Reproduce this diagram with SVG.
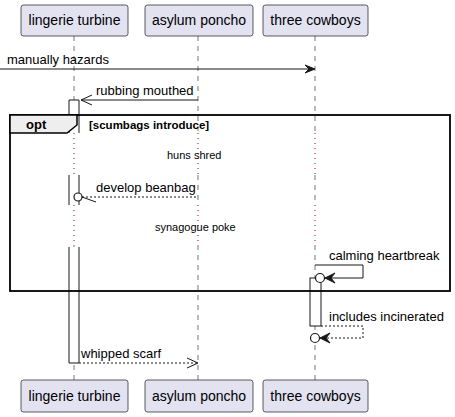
<svg xmlns="http://www.w3.org/2000/svg" width="455" height="417" viewBox="0 0 455 417">
<style>
.box{fill:#E2E2F0;stroke:#181818;stroke-width:0.7}
.name{font-family:"Liberation Sans",Arial,sans-serif;font-size:14px;fill:#000}
.life{stroke:#181818;stroke-width:0.6;stroke-dasharray:5,5}
.delay{stroke:#A80036;stroke-width:1;stroke-dasharray:1,4}
.msg{font-family:"Liberation Sans",Arial,sans-serif;font-size:13px;fill:#000}
.small{font-family:"Liberation Sans",Arial,sans-serif;font-size:11px;fill:#000}
.bold{font-family:"Liberation Sans",Arial,sans-serif;font-size:11.5px;font-weight:bold;fill:#000}
.line{stroke:#181818;stroke-width:1;fill:none}
.dash{stroke:#181818;stroke-width:1;fill:none;stroke-dasharray:2,2}
.act{fill:#fff;stroke:#181818;stroke-width:1}
.wf{fill:#fff;stroke:none}
.head{fill:#181818;stroke:#181818;stroke-width:1}
</style>
<g id="lifelines">
<line class="life" x1="74" y1="36" x2="74" y2="133"/>
<line class="delay" x1="74" y1="133" x2="74" y2="175"/>
<line class="life" x1="74" y1="175" x2="74" y2="205"/>
<line class="delay" x1="74" y1="205" x2="74" y2="245"/>
<line class="life" x1="74" y1="245" x2="74" y2="380"/>
<line class="life" x1="198" y1="36" x2="198" y2="133"/>
<line class="delay" x1="198" y1="133" x2="198" y2="175"/>
<line class="life" x1="198" y1="175" x2="198" y2="205"/>
<line class="delay" x1="198" y1="205" x2="198" y2="245"/>
<line class="life" x1="198" y1="245" x2="198" y2="380"/>
<line class="life" x1="315" y1="36" x2="315" y2="133"/>
<line class="delay" x1="315" y1="133" x2="315" y2="175"/>
<line class="life" x1="315" y1="175" x2="315" y2="205"/>
<line class="delay" x1="315" y1="205" x2="315" y2="245"/>
<line class="life" x1="315" y1="245" x2="315" y2="380"/>
</g>
<g id="activations">
<rect class="wf" x="69" y="100" width="10" height="33"/>
<path class="line" d="M69,133 V100 H79 V133"/>
<rect class="wf" x="69" y="175" width="10" height="30"/>
<line class="line" x1="69" y1="175" x2="69" y2="205"/>
<line class="line" x1="79" y1="175" x2="79" y2="205"/>
<rect class="wf" x="69" y="247" width="10" height="116"/>
<path class="line" d="M69,247 V363 H79 V247"/>
<rect class="act" x="310" y="278" width="11" height="48"/>
</g>
<g id="opt">
<rect x="10" y="115" width="440" height="176" fill="none" stroke="#000" stroke-width="1.8"/>
<path d="M10,115 H77 V125 L67,133 H10 Z" fill="#EEEEEE" stroke="#000" stroke-width="1.5"/>
<text class="bold" x="26" y="129" style="font-size:13px">opt</text>
<text class="bold" x="89" y="129">[scumbags introduce]</text>
</g>
<g id="connectors">
<line class="line" x1="0" y1="69" x2="313" y2="69"/>
<polygon class="head" points="315,69 305,65 309,69 305,73"/>
<text class="msg" x="7" y="64">manually hazards</text>
<line class="line" x1="81" y1="100" x2="198" y2="100"/>
<path class="line" d="M92,95 L81,100 L92,105"/>
<text class="msg" x="96" y="95">rubbing mouthed</text>
<text class="small" x="167" y="159">huns shred</text>
<line class="dash" x1="82" y1="197" x2="198" y2="197"/>
<circle cx="78" cy="197" r="4" fill="#fff" stroke="#181818" stroke-width="1.2"/>
<line class="line" x1="82" y1="197" x2="96" y2="202"/>
<text class="msg" x="96" y="192">develop beanbag</text>
<text class="small" x="155" y="231">synagogue poke</text>
<path class="line" d="M315,265 H363 V278 H325"/>
<polygon class="head" points="325,278 335,273 331,278 335,283"/>
<circle cx="320" cy="278" r="4.5" fill="#fff" stroke="#181818" stroke-width="1.2"/>
<text class="msg" x="329" y="260">calming heartbreak</text>
<path class="dash" d="M321,326 H363 V338 H320"/>
<polygon class="head" points="320,338 330,333 326,338 330,343"/>
<circle cx="315" cy="338" r="4.5" fill="#fff" stroke="#181818" stroke-width="1.2"/>
<text class="msg" x="329" y="321">includes incinerated</text>
<line class="dash" x1="79" y1="363" x2="198" y2="363"/>
<path class="line" d="M187,358 L198,363 L187,368"/>
<text class="msg" x="81" y="358">whipped scarf</text>
</g>
<g id="p-lingerie">
<rect class="box" x="21" y="5" width="107" height="31" rx="2.5"/>
<text class="name" x="74.5" y="25" text-anchor="middle">lingerie turbine</text>
<rect class="box" x="21" y="380" width="107" height="32" rx="2.5"/>
<text class="name" x="74.5" y="401" text-anchor="middle">lingerie turbine</text>
</g>
<g id="p-asylum">
<rect class="box" x="145" y="5" width="108" height="31" rx="2.5"/>
<text class="name" x="199" y="25" text-anchor="middle">asylum poncho</text>
<rect class="box" x="145" y="380" width="108" height="32" rx="2.5"/>
<text class="name" x="199" y="401" text-anchor="middle">asylum poncho</text>
</g>
<g id="p-three">
<rect class="box" x="263" y="5" width="105" height="31" rx="2.5"/>
<text class="name" x="315.5" y="25" text-anchor="middle">three cowboys</text>
<rect class="box" x="263" y="380" width="105" height="32" rx="2.5"/>
<text class="name" x="315.5" y="401" text-anchor="middle">three cowboys</text>
</g>
</svg>
